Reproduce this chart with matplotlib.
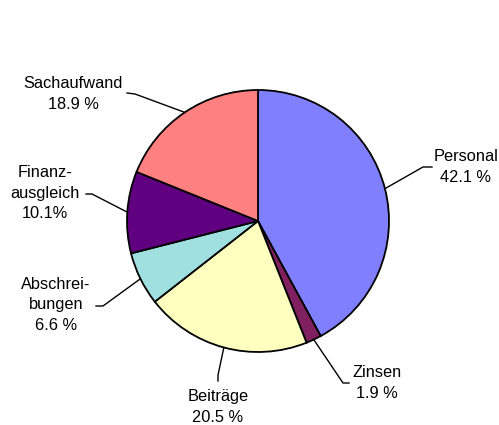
import numpy as np
import matplotlib
matplotlib.use("Agg")
import matplotlib.pyplot as plt

# data (clockwise from 12 o'clock)
categories = ["Personal", "Zinsen", "Beiträge", "Abschreibungen", "Finanzausgleich", "Sachaufwand"]
shares = [42.1, 1.9, 20.5, 6.6, 10.1, 18.9]
label_texts = [
    "Personal\n42.1 %",
    "Zinsen\n1.9 %",
    "Beiträge\n20.5 %",
    "Abschrei-\nbungen\n6.6 %",
    "Finanz-\nausgleich\n10.1%",
    "Sachaufwand\n18.9 %",
]
colors = ["#8080FF", "#802060", "#FFFFC0", "#A0E0E0", "#600080", "#FF8080"]

W, H = 499, 425
CENTER_PX = (258, 221)
RADIUS = 131

# label layout in pixel coords: elbow, end of leader, text centre
layout = {
    "Personal":        dict(elbow=(423, 167), end=(432, 167), text=(466, 167)),
    "Zinsen":          dict(elbow=(343, 383), end=(349, 383), text=(377, 383)),
    "Beiträge":        dict(elbow=(218, 375), end=(218, 381), text=(218, 407)),
    "Abschreibungen":  dict(elbow=(103, 306), end=(96, 306), text=(56, 305)),
    "Finanzausgleich": dict(elbow=(92, 194), end=(86, 194), text=(45, 193)),
    "Sachaufwand":     dict(elbow=(135, 94), end=(127, 93), text=(73, 94)),
}


def px(p):
    return (p[0], H - p[1])


plt.rcParams['font.family'] = ['Liberation Sans', 'DejaVu Sans']

fig = plt.figure(figsize=(W / 100, H / 100), dpi=100)
ax = fig.add_axes([0, 0, 1, 1])

cx, cy = px(CENTER_PX)
wedges, _ = ax.pie(shares, colors=colors, startangle=90, counterclock=False,
                   center=(cx, cy), radius=RADIUS, frame=True,
                   wedgeprops=dict(edgecolor="black", linewidth=1.3))

for wedge, name, txt in zip(wedges, categories, label_texts):
    mid = np.deg2rad((wedge.theta1 + wedge.theta2) / 2)
    edge = (cx + RADIUS * np.cos(mid), cy + RADIUS * np.sin(mid))
    lay = layout[name]
    ex, ey = px(lay["elbow"])
    nx, ny = px(lay["end"])
    ax.plot([edge[0], ex, nx], [edge[1], ey, ny], color="black", linewidth=1)
    tx, ty = px(lay["text"])
    ax.text(tx, ty, txt, ha="center", va="center", fontsize=11.8,
            linespacing=1.45, color="black")

ax.set_xlim(0, W)
ax.set_ylim(0, H)
ax.set_aspect("equal")
ax.axis("off")

fig.savefig("out.png", dpi=100)
